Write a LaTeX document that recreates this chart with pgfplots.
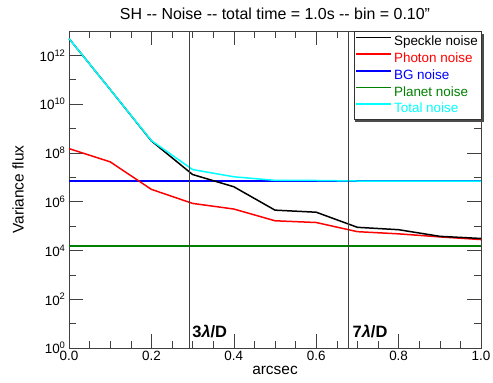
\documentclass[border=0pt]{standalone}
\usepackage{fontspec}
\setmainfont{Liberation Sans}
\usepackage{pgfplots}
\pgfplotsset{compat=1.18}
\definecolor{igreen}{RGB}{0,128,0}
\definecolor{iblue}{RGB}{0,0,255}
\definecolor{ired}{RGB}{255,0,0}
\definecolor{icyan}{RGB}{0,255,255}
\definecolor{iblack}{RGB}{0,0,0}
\begin{document}
\begin{tikzpicture}[font=\fontsize{13.5}{16}\selectfont]
\begin{axis}[name=ax, scale only axis, width=412bp, height=317bp,
  xmin=0, xmax=1, ymode=log, log basis y=10, ymin=1, ymax=1e13, clip=false,
  xtick={0,0.2,0.4,0.6,0.8,1}, minor x tick num=3,
  ytick={1,1e2,1e4,1e6,1e8,1e10,1e12}, minor ytick={10,1e3,1e5,1e7,1e9,1e11},
  xticklabel style={/pgf/number format/.cd, fixed, fixed zerofill, precision=1, assume math mode=true},
  yticklabel={10\textsuperscript{\pgfmathparse{int(round(\tick))}\pgfmathresult}},
  tick align=inside, xtick pos=both, ytick pos=both, ticklabel pos=left,
  major tick length=14bp, minor tick length=7bp,
  every tick/.style={black!75, line width=0.6pt},
  axis line style={black!75, line width=0.7pt},
  legend style={at={(1,1)}, anchor=north east, draw=black!80, fill=white,
    legend cell align=left, row sep=1.5bp, inner xsep=1bp, inner ysep=3bp,
    font=\fontsize{13.5}{16}\selectfont},
  legend image code/.code={\draw[#1] (0bp,4.5bp) -- (35bp,4.5bp);},
]
\addplot[iblue, line width=1.6pt, forget plot] coordinates {(0,6.9e6) (1,6.9e6)};
\addplot[igreen, line width=1.5pt, forget plot] coordinates {(0,1.5e4) (1,1.5e4)};
\addplot[ired, line width=1.5pt, forget plot] coordinates {
(0,1.5e8) (0.1,4.3e7) (0.2,3.2e6) (0.3,8.5e5) (0.4,5e5) (0.5,1.65e5)
(0.6,1.4e5) (0.7,5.9e4) (0.8,4.8e4) (0.9,3.6e4) (1.0,2.8e4)};
\addplot[iblack, line width=1.5pt, forget plot] coordinates {
(0,4.9e12) (0.1,4e10) (0.2,3.1e8) (0.3,1.3e7) (0.4,4.1e6) (0.5,4.5e5)
(0.6,3.7e5) (0.7,8.9e4) (0.8,7.1e4) (0.9,3.8e4) (1.0,3.1e4)};
\addplot[icyan, line width=1.5pt, forget plot] coordinates {
(0,4.9e12) (0.1,4e10) (0.2,3.2e8) (0.3,2.08e7) (0.4,1.05e7) (0.5,7.5e6)
(0.6,7.4e6) (0.7,7.05e6) (0.8,7.02e6) (0.9,7.0e6) (1.0,6.98e6)};
\addplot[black!75, line width=0.6pt, forget plot] coordinates {(0.291,1) (0.291,1e13)};
\addplot[black!75, line width=0.6pt, forget plot] coordinates {(0.679,1) (0.679,1e13)};
\addlegendimage{iblack, line width=1.5pt}\addlegendentry[text=iblack]{Speckle noise}
\addlegendimage{ired, line width=1.5pt}\addlegendentry[text=ired]{Photon noise}
\addlegendimage{iblue, line width=1.5pt}\addlegendentry[text=iblue]{BG noise}
\addlegendimage{igreen, line width=1.5pt}\addlegendentry[text=igreen]{Planet noise}
\addlegendimage{icyan, line width=1.5pt}\addlegendentry[text=icyan]{Total noise}
\fill[black!70] ([shift={(-126bp,-91bp)}]rel axis cs:1,1) rectangle ([shift={(2.5bp,-3bp)}]rel axis cs:1,1);
\node[anchor=base west, font=\fontsize{16.5}{18}\selectfont\bfseries, inner sep=0pt] at (axis cs:0.299,2.8) {3\textit{λ}/D};
\node[anchor=base west, font=\fontsize{16.5}{18}\selectfont\bfseries, inner sep=0pt] at (axis cs:0.688,2.8) {7\textit{λ}/D};
\end{axis}
\node[rotate=90, font=\fontsize{15.5}{18}\selectfont] at ([xshift=-51bp]ax.west) {Variance flux};
\node[font=\fontsize{15.5}{18}\selectfont] at ([yshift=-22bp]ax.south) {arcsec};
\node[font=\fontsize{16}{18}\selectfont] at ([yshift=17bp]ax.north) {SH -{}- Noise -{}- total time = 1.0s -{}- bin = 0.10"};
\pgfresetboundingbox
\path ([shift={(-69bp,-35bp)}]ax.south west) rectangle ([shift={(12bp,31bp)}]ax.north east);
\end{tikzpicture}
\end{document}
